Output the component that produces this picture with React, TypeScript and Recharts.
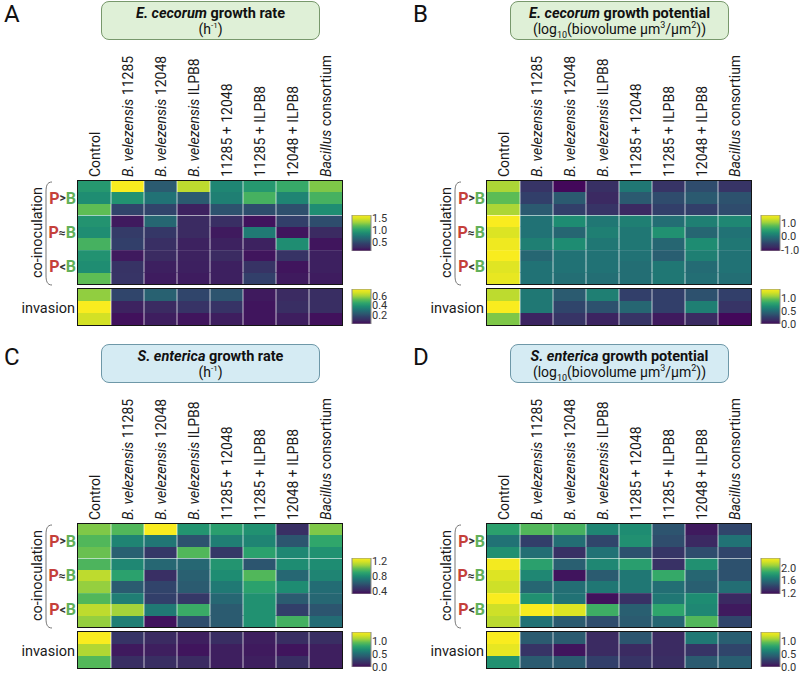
import React from "react";
import { BarChart, Bar, XAxis, YAxis, ReferenceArea } from "recharts";

const TREATMENTS = [
  "Control",
  "B. velezensis 11285",
  "B. velezensis 12048",
  "B. velezensis ILPB8",
  "11285 + 12048",
  "11285 + ILPB8",
  "12048 + ILPB8",
  "Bacillus consortium",
];
const ITALIC_PARTS = ["B. velezensis", "Bacillus"];
const GROUPS = [
  ["P", ">", "B"],
  ["P", "≈", "B"],
  ["P", "<", "B"],
];

// E. cecorum growth rate (h-1); rows top to bottom, one value per treatment
const ecRateCo = [
  [0.95, 1.65, 0.57, 1.42, 0.84, 0.95, 1.06, 1.26],
  [0.88, 0.91, 0.72, 0.57, 0.8, 1.11, 0.83, 1.11],
  [1.19, 0.44, 0.44, 0.22, 0.52, 0.49, 0.5, 0.88],
  [0.92, 0.18, 0.64, 0.26, 0.29, 0.15, 0.41, 0.49],
  [0.88, 0.38, 0.35, 0.26, 0.18, 0.77, 0.16, 0.26],
  [1.11, 0.41, 0.29, 0.22, 0.22, 0.22, 0.88, 0.16],
  [0.91, 0.18, 0.26, 0.22, 0.26, 0.16, 0.32, 0.21],
  [0.88, 0.32, 0.21, 0.21, 0.21, 0.32, 0.16, 0.21],
  [1.19, 0.33, 0.19, 0.19, 0.21, 0.41, 0.18, 0.19],
];
const ecRateInv = [
  [0.59, 0.17, 0.25, 0.17, 0.21, 0.04, 0.08, 0.09],
  [0.76, 0.06, 0.08, 0.11, 0.11, 0.03, 0.09, 0.09],
  [0.68, 0.02, 0.05, 0.03, 0.05, 0.03, 0.05, 0.02],
];
const ecRateCoRange = [0.1, 1.65];
const ecRateCoTicks = [0.5, 1.0, 1.5];
const ecRateInvRange = [0, 0.76];
const ecRateInvTicks = [0.2, 0.4, 0.6];

// E. cecorum growth potential, log10(biovolume um3/um2)
const ecPotCo = [
  [1.11, -0.7, -1.1, -0.75, 0.03, -0.7, -0.43, -0.7],
  [0.79, -0.56, -0.29, -0.83, -0.29, -0.43, -0.29, -0.37],
  [1.11, -0.29, -0.56, -0.7, -0.83, -0.56, -0.56, -0.43],
  [1.6, -0.02, 0.25, 0.03, 0.12, -0.07, 0.12, 0.2],
  [1.38, -0.02, -0.16, 0.12, 0.03, 0.3, -0.16, -0.02],
  [1.52, 0.12, 0.25, 0.03, 0.03, -0.16, 0.25, 0.03],
  [1.6, -0.16, -0.02, -0.02, -0.02, -0.24, 0.12, -0.02],
  [1.41, -0.02, -0.02, -0.02, -0.07, 0.03, -0.1, -0.02],
  [1.47, -0.02, -0.07, -0.07, -0.07, 0.03, -0.07, -0.07],
];
const ecPotInv = [
  [1.15, 0.57, 0.41, 0.61, 0.27, 0.27, 0.36, 0.27],
  [1.35, 0.57, 0.3, 0.36, 0.47, 0.27, 0.61, 0.2],
  [1.01, 0.11, 0.2, 0.11, 0.2, 0.07, 0.14, 0.0],
];
const ecPotCoRange = [-1.1, 1.6];
const ecPotCoTicks = [-1.0, 0.0, 1.0];
const ecPotInvRange = [0, 1.35];
const ecPotInvTicks = [0.0, 0.5, 1.0];

// S. enterica growth rate (h-1)
const seRateCo = [
  [1.04, 0.97, 1.28, 0.83, 0.87, 0.82, 0.44, 1.04],
  [0.97, 0.77, 0.72, 0.58, 0.75, 0.77, 0.59, 0.9],
  [1.01, 0.63, 0.48, 0.97, 0.48, 0.88, 0.78, 0.82],
  [0.96, 0.78, 0.66, 0.66, 0.83, 0.59, 0.8, 0.8],
  [1.14, 0.88, 0.44, 0.63, 0.8, 0.97, 0.66, 0.77],
  [1.07, 0.61, 0.53, 0.61, 0.73, 0.88, 0.8, 0.68],
  [0.97, 0.75, 0.51, 0.48, 0.66, 0.82, 0.61, 0.66],
  [1.14, 1.09, 0.73, 0.92, 0.61, 0.82, 0.51, 0.59],
  [1.07, 0.75, 0.35, 0.56, 0.61, 0.82, 0.94, 0.68],
];
const seRateInv = [
  [1.35, 0.2, 0.14, 0.09, 0.16, 0.09, 0.16, 0.16],
  [1.12, 0.07, 0.09, 0.05, 0.09, 0.07, 0.05, 0.09],
  [0.92, 0.16, 0.16, 0.14, 0.09, 0.09, 0.16, 0.09],
];
const seRateCoRange = [0.32, 1.28];
const seRateCoTicks = [0.4, 0.8, 1.2];
const seRateInvRange = [0, 1.35];
const seRateInvTicks = [0.0, 0.5, 1.0];

// S. enterica growth potential, log10(biovolume um3/um2)
const sePotCo = [
  [1.83, 1.94, 1.91, 1.71, 1.74, 1.49, 1.24, 1.43],
  [1.63, 1.4, 1.61, 1.43, 1.76, 1.46, 1.29, 1.63],
  [1.76, 1.61, 1.33, 1.63, 1.48, 1.35, 1.46, 1.43],
  [2.28, 1.83, 1.54, 1.72, 1.82, 1.33, 1.76, 1.48],
  [2.21, 1.72, 1.22, 1.52, 1.65, 1.87, 1.57, 1.48],
  [2.17, 1.57, 1.61, 1.65, 1.65, 1.61, 1.54, 1.61],
  [2.3, 1.76, 1.63, 1.21, 1.33, 1.65, 1.74, 1.29],
  [2.17, 2.3, 2.21, 1.89, 1.54, 1.85, 1.72, 1.24],
  [2.13, 1.63, 1.52, 1.46, 1.52, 1.57, 1.94, 1.43],
];
const sePotInv = [
  [1.35, 0.41, 0.41, 0.14, 0.38, 0.14, 0.57, 0.43],
  [1.28, 0.2, 0.05, 0.14, 0.14, 0.14, 0.2, 0.3],
  [0.7, 0.41, 0.41, 0.27, 0.2, 0.16, 0.41, 0.43],
];
const sePotCoRange = [1.18, 2.3];
const sePotCoTicks = [1.2, 1.6, 2.0];
const sePotInvRange = [0, 1.35];
const sePotInvTicks = [0.0, 0.5, 1.0];

const FONT = "Roboto, sans-serif";
// viridis-like ramp, slightly greener in the middle than the matplotlib one
const PALETTE = [
  "#43085a", "#3b2a62", "#323f6a", "#2b5a70", "#217275", "#1e8c72",
  "#2ea56c", "#5cbc55", "#a2d33a", "#d6e224", "#f9ec1f",
];

const hexRgb = (h: string) => [1, 3, 5].map((i) => parseInt(h.slice(i, i + 2), 16));

function ramp(t: number) {
  const c = Math.min(1, Math.max(0, t)) * 10;
  const i = Math.min(9, Math.floor(c));
  const f = c - i;
  const a = hexRgb(PALETTE[i]);
  const b = hexRgb(PALETTE[i + 1]);
  const m = a.map((v, k) => Math.round(v + (b[k] - v) * f));
  return `rgb(${m[0]},${m[1]},${m[2]})`;
}

const ColumnTick = ({ x, y, payload }: any) => {
  const label: string = payload.value;
  const it = ITALIC_PARTS.find((p) => label.startsWith(p));
  return (
    <text
      transform={`translate(${x},${y}) rotate(-90)`}
      dy="0.36em"
      textAnchor="start"
      fontSize={14}
      fill="#1a1a1a"
      fontFamily={FONT}
    >
      {it ? (
        <>
          <tspan fontStyle="italic">{it}</tspan>
          <tspan>{label.slice(it.length)}</tspan>
        </>
      ) : (
        label
      )}
    </text>
  );
};

// one heatmap cell: filled rect, white separators between treatments and row groups
const HeatCell = (props: any) => {
  const { x, y, width, height, index, values, range, row, groupSize } = props;
  const top = height < 0 ? y + height : y;
  const h = Math.abs(height);
  const v = values[index];
  const fill = ramp((v - range[0]) / (range[1] - range[0]));
  const sep = "rgba(255,255,255,0.7)";
  return (
    <g>
      <rect x={x} y={top} width={width} height={h} fill={fill} shapeRendering="crispEdges" />
      {index > 0 && <line x1={x} x2={x} y1={top} y2={top + h} stroke={sep} strokeWidth={1} />}
      {groupSize > 0 && row > 0 && row % groupSize === 0 && (
        <line x1={x} x2={x + width} y1={top} y2={top} stroke={sep} strokeWidth={1} />
      )}
    </g>
  );
};

function HeatBlock({ rows, range, left, top, height, labels, groupSize }: any) {
  const labelH = labels ? 135 : 0;
  const data = TREATMENTS.map((name) => {
    const d: any = { name };
    rows.forEach((_: any, r: number) => (d[`r${r}`] = 1));
    return d;
  });
  // stacks grow upward, so the bottom row goes in first
  const order = rows.map((_: any, r: number) => rows.length - 1 - r);
  return (
    <div style={{ position: "absolute", left: left - 2, top: top - labelH - (labels ? 0 : 2) }}>
      <BarChart
        width={268}
        height={labelH + height + (labels ? 2 : 4)}
        data={data}
        margin={{ top: labels ? 0 : 2, right: 2, bottom: 2, left: 2 }}
        barCategoryGap={0}
        barGap={0}
      >
        <XAxis
          dataKey="name"
          orientation="top"
          hide={!labels}
          height={labelH}
          axisLine={false}
          tickLine={false}
          tickSize={0}
          tickMargin={4}
          interval={0}
          tick={(p: any) => <ColumnTick {...p} />}
        />
        <YAxis hide type="number" domain={[0, rows.length]} />
        {order.map((r: number) => (
          <Bar
            key={r}
            dataKey={`r${r}`}
            stackId="cells"
            isAnimationActive={false}
            shape={(p: any) => (
              <HeatCell {...p} values={rows[r]} range={range} row={r} groupSize={groupSize} />
            )}
          />
        ))}
        <ReferenceArea
          x1={TREATMENTS[0]}
          x2={TREATMENTS[TREATMENTS.length - 1]}
          y1={0}
          y2={rows.length}
          fill="none"
          stroke="#141414"
          strokeWidth={2}
          ifOverflow="visible"
        />
      </BarChart>
    </div>
  );
}

function ColorBar({ range, ticks, left, top, height, id }: any) {
  return (
    <div style={{ position: "absolute", left: left - 1, top: top - 7 }}>
      <BarChart
        width={60}
        height={height + 14}
        data={[{ k: "scale", v: range }]}
        margin={{ top: 7, right: 0, bottom: 7, left: 1 }}
        barCategoryGap={0}
      >
        <defs>
          <linearGradient id={id} x1="0" y1="1" x2="0" y2="0">
            {PALETTE.map((c, i) => (
              <stop key={c} offset={`${i * 10}%`} stopColor={c} />
            ))}
          </linearGradient>
        </defs>
        <XAxis dataKey="k" hide />
        <YAxis
          orientation="right"
          type="number"
          domain={range}
          ticks={ticks}
          allowDataOverflow
          width={40}
          axisLine={false}
          tickLine={false}
          tickSize={0}
          tickMargin={1}
          interval={0}
          tickFormatter={(v: number) => v.toFixed(1)}
          tick={{ fontSize: 11, fill: "#333", fontFamily: FONT }}
        />
        <Bar dataKey="v" fill={`url(#${id})`} stroke="#8c8c8c" strokeWidth={1} isAnimationActive={false} />
      </BarChart>
    </div>
  );
}

const Unit = ({ kind }: { kind: string }) =>
  kind === "rate" ? (
    <span>
      (h<sup style={{ fontSize: 8, lineHeight: 0 }}>-1</sup>)
    </span>
  ) : (
    <span>
      (log<sub style={{ fontSize: 9, lineHeight: 0 }}>10</sub>(biovolume µm
      <sup style={{ fontSize: 9, lineHeight: 0 }}>3</sup>/µm
      <sup style={{ fontSize: 9, lineHeight: 0 }}>2</sup>))
    </span>
  );

const PANELS = [
  {
    letter: "A", dx: 0, dy: 0, tone: "green", species: "E. cecorum", measure: "growth rate", unit: "rate",
    co: ecRateCo, inv: ecRateInv, coRange: ecRateCoRange, coTicks: ecRateCoTicks, invRange: ecRateInvRange, invTicks: ecRateInvTicks,
  },
  {
    letter: "B", dx: 409, dy: 0, tone: "green", species: "E. cecorum", measure: "growth potential", unit: "potential",
    co: ecPotCo, inv: ecPotInv, coRange: ecPotCoRange, coTicks: ecPotCoTicks, invRange: ecPotInvRange, invTicks: ecPotInvTicks,
  },
  {
    letter: "C", dx: 0, dy: 343, tone: "blue", species: "S. enterica", measure: "growth rate", unit: "rate",
    co: seRateCo, inv: seRateInv, coRange: seRateCoRange, coTicks: seRateCoTicks, invRange: seRateInvRange, invTicks: seRateInvTicks,
  },
  {
    letter: "D", dx: 409, dy: 343, tone: "blue", species: "S. enterica", measure: "growth potential", unit: "potential",
    co: sePotCo, inv: sePotInv, coRange: sePotCoRange, coTicks: sePotCoTicks, invRange: sePotInvRange, invTicks: sePotInvTicks,
  },
];

const TONES: any = {
  green: { fill: "#dff0d7", border: "#78986c" },
  blue: { fill: "#d5ebf3", border: "#6e98a8" },
};

function PanelLabels({ dx, dy, letter }: any) {
  const coTop = 181 + dy;
  const coH = 103;
  return (
    <g fontFamily={FONT}>
      <text x={4 + dx} y={22 + dy} fontSize={24} fill="#111">
        {letter}
      </text>
      <text
        transform={`translate(${42 + dx},${coTop + coH / 2}) rotate(-90)`}
        textAnchor="middle"
        fontSize={14.5}
        fill="#1a1a1a"
      >
        co-inoculation
      </text>
      <path
        d={`M ${52 + dx} ${coTop + 1} C ${47 + dx} ${coTop + 1} ${46 + dx} ${coTop + 5} ${46 + dx} ${coTop + 11} L ${46 + dx} ${coTop + coH - 9} C ${46 + dx} ${coTop + coH - 3} ${47 + dx} ${coTop + coH + 1} ${52 + dx} ${coTop + coH + 1}`}
        fill="none"
        stroke="#777"
        strokeWidth={1}
      />
      {GROUPS.map((g, i) => (
        <text
          key={i}
          x={76 + dx}
          y={coTop + (coH / 3) * (i + 0.5) + 5.5}
          textAnchor="end"
          fontWeight={700}
          fontSize={16}
        >
          <tspan fill="#c5403a">{g[0]}</tspan>
          <tspan fill="#333" fontSize={12} dy={-1.5}>{g[1]}</tspan>
          <tspan fill="#62b05a" dy={1.5}>{g[2]}</tspan>
        </text>
      ))}
      <text x={75 + dx} y={312.5 + dy} textAnchor="end" fontSize={14.5} fill="#1a1a1a">
        invasion
      </text>
    </g>
  );
}

export default function App() {
  return (
    <div
      style={{
        position: "absolute",
        left: 0,
        top: 0,
        width: 800,
        height: 673,
        background: "#fff",
        fontFamily: FONT,
        overflow: "hidden",
      }}
    >
      <svg width={800} height={673} style={{ position: "absolute", left: 0, top: 0 }}>
        {PANELS.map((p) => (
          <PanelLabels key={p.letter} {...p} />
        ))}
      </svg>
      {PANELS.map((p) => {
        const tone = TONES[p.tone];
        return (
          <React.Fragment key={p.letter}>
            <div
              style={{
                position: "absolute",
                left: 101 + p.dx,
                top: 1 + p.dy,
                width: 217,
                height: 37,
                background: tone.fill,
                border: `1px solid ${tone.border}`,
                borderRadius: 8,
                textAlign: "center",
                color: "#111",
              }}
            >
              <div style={{ fontWeight: 700, fontSize: 14.5, lineHeight: "17px", marginTop: 3 }}>
                <i>{p.species}</i> {p.measure}
              </div>
              <div style={{ fontSize: 14, lineHeight: "15px" }}>
                <Unit kind={p.unit} />
              </div>
            </div>
            <HeatBlock rows={p.co} range={p.coRange} left={78 + p.dx} top={181 + p.dy} height={103} labels groupSize={3} />
            <HeatBlock rows={p.inv} range={p.invRange} left={78 + p.dx} top={289 + p.dy} height={36} labels={false} groupSize={0} />
            <ColorBar id={`cb-co-${p.letter}`} range={p.coRange} ticks={p.coTicks} left={352 + p.dx} top={215 + p.dy} height={36} />
            <ColorBar id={`cb-inv-${p.letter}`} range={p.invRange} ticks={p.invTicks} left={352 + p.dx} top={289 + p.dy} height={35} />
          </React.Fragment>
        );
      })}
    </div>
  );
}
